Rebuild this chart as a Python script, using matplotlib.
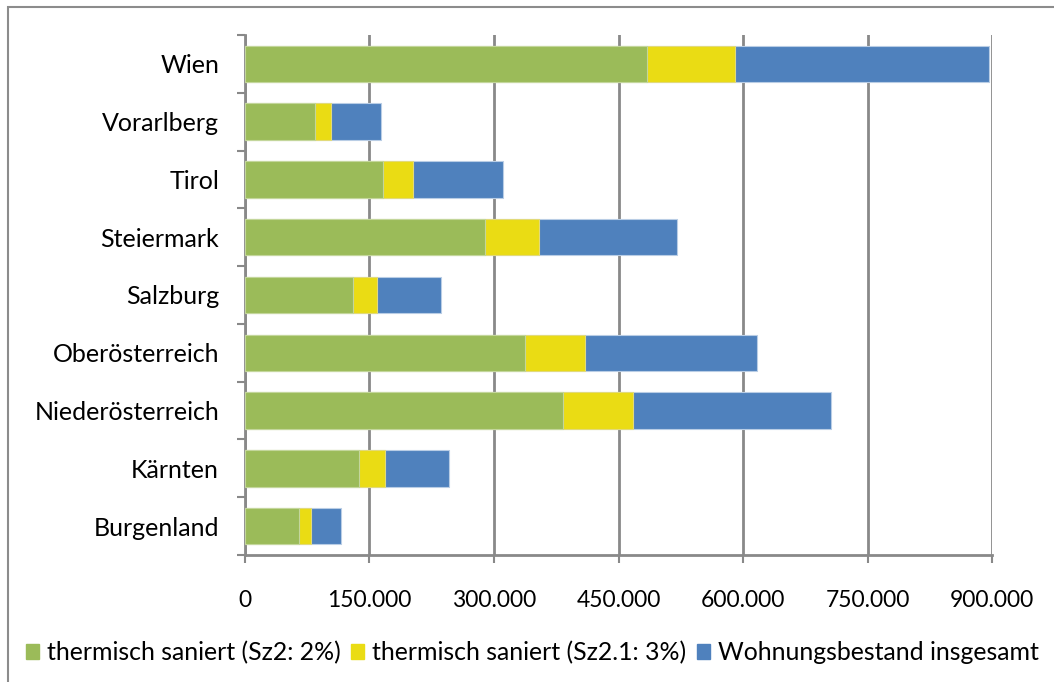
import matplotlib.pyplot as plt
from matplotlib.patches import Patch, Rectangle
from matplotlib.ticker import FuncFormatter, FixedLocator, MultipleLocator

# Wohnungsbestand je Bundesland und Anteil thermisch sanierter Wohnungen
laender = ["Burgenland", "Kärnten", "Niederösterreich", "Oberösterreich",
           "Salzburg", "Steiermark", "Tirol", "Vorarlberg", "Wien"]
saniert_sz2 = [65400, 137600, 383600, 337800, 130800, 289700, 166500, 85000, 484600]
saniert_sz21 = [79800, 169300, 467400, 409600, 159700, 354700, 202600, 103900, 590200]
bestand = [115900, 246300, 706200, 617100, 236700, 520400, 310900, 164500, 896400]

series_labels = ["thermisch saniert (Sz2: 2%)",
                 "thermisch saniert (Sz2.1: 3%)",
                 "Wohnungsbestand insgesamt"]

GREEN = "#9BBB59"
YELLOW = "#EADC14"
BLUE = "#4F81BD"
GRID = "#898989"

plt.rcParams["font.family"] = ["Lato", "DejaVu Sans"]

fig = plt.figure(figsize=(10.54, 6.82), dpi=100)
ax = fig.add_axes([0.2322, 0.1862, 0.7093, 0.7625])

y = list(range(len(laender)))
h = 0.63
# overlapping bars: total in the back, the saniert shares drawn on top
ax.barh(y, bestand, height=h, color=BLUE, edgecolor="#B9CDE5", linewidth=0.8, zorder=3)
ax.barh(y, saniert_sz21, height=h, color=YELLOW, edgecolor="#E2DA7A", linewidth=0.8, zorder=4)
ax.barh(y, saniert_sz2, height=h, color=GREEN, edgecolor="#C3D69B", linewidth=0.8, zorder=5)

ax.set_xlim(0, 900000)
ax.set_ylim(-0.5, len(laender) - 0.5)
ax.xaxis.set_major_locator(MultipleLocator(150000))
ax.xaxis.set_major_formatter(FuncFormatter(lambda v, p: f"{int(v):,}".replace(",", ".")))
ax.grid(axis="x", color=GRID, linewidth=2, zorder=1)
ax.set_axisbelow(True)

ax.set_yticks(y)
ax.set_yticklabels(laender)
ax.yaxis.set_minor_locator(FixedLocator([i - 0.5 for i in range(len(laender) + 1)]))
ax.tick_params(axis="y", which="major", length=0, pad=18.5, labelsize=18)
ax.tick_params(axis="y", which="minor", length=5.5, width=1.5, color=GRID)
ax.tick_params(axis="x", length=6, width=1.5, color=GRID, pad=19, labelsize=16.5)

for side in ("top", "right"):
    ax.spines[side].set_visible(False)
for side in ("left", "bottom"):
    ax.spines[side].set_color(GRID)
    ax.spines[side].set_linewidth(2)

handles = [Patch(color=c) for c in (GREEN, YELLOW, BLUE)]
fig.legend(handles, series_labels, loc="center", bbox_to_anchor=(0.505, 0.043),
           ncol=3, frameon=False, fontsize=17.9, handlelength=0.52, handleheight=0.52,
           handletextpad=0.3, columnspacing=0.45, borderaxespad=0)

# chart border
fig.patches.append(Rectangle((8 / 1054, -0.1), 2, 1 - 7 / 682 + 0.1,
                             transform=fig.transFigure, fill=False,
                             edgecolor="#8C8C8C", linewidth=1.5))

fig.savefig("out.png", dpi=100)
